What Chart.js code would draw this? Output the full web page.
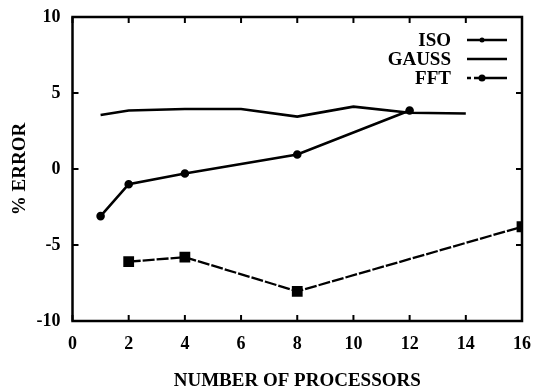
<!DOCTYPE html>
<html><head><meta charset="utf-8">
<script src="https://cdn.jsdelivr.net/npm/chart.js@4/dist/chart.umd.min.js"></script>
<style>html,body{margin:0;padding:0;background:#fff}#wrap{width:536px;height:389px;position:relative}</style>
</head><body><div id="wrap"><canvas id="c" width="536" height="389"></canvas></div>
<script>
const isoX = [1, 2, 4, 8, 12];
const isoY = [-3.1, -1.0, -0.3, 0.95, 3.85];
const gaussX = [1, 2, 4, 6, 8, 10, 12, 14];
const gaussY = [3.55, 3.85, 3.95, 3.95, 3.45, 4.1, 3.7, 3.65];
const fftX = [2, 4, 8, 16];
const fftY = [-6.1, -5.8, -8.05, -3.8];
const seriesNames = ['ISO', 'GAUSS', 'FFT'];
const xTicks = [0, 2, 4, 6, 8, 10, 12, 14, 16];
const yTicks = [-10, -5, 0, 5, 10];

const FONT = '"Liberation Serif", "DejaVu Serif", serif';
const pts = (xs, ys) => xs.map((x, i) => ({x, y: ys[i]}));

const frame = {
  id: 'frame',
  afterDraw(chart) {
    const {ctx, chartArea: a, scales: {x, y}} = chart;
    ctx.save();
    ctx.strokeStyle = '#000';
    ctx.lineWidth = 2.5;
    ctx.strokeRect(a.left, a.top, a.right - a.left, a.bottom - a.top);
    ctx.lineWidth = 2;
    const L = 6;
    xTicks.forEach(v => {
      const px = x.getPixelForValue(v);
      ctx.beginPath(); ctx.moveTo(px, a.bottom); ctx.lineTo(px, a.bottom - L); ctx.stroke();
      ctx.beginPath(); ctx.moveTo(px, a.top); ctx.lineTo(px, a.top + L); ctx.stroke();
    });
    yTicks.forEach(v => {
      const py = y.getPixelForValue(v);
      ctx.beginPath(); ctx.moveTo(a.left, py); ctx.lineTo(a.left + L, py); ctx.stroke();
      ctx.beginPath(); ctx.moveTo(a.right, py); ctx.lineTo(a.right - L, py); ctx.stroke();
    });
    // legend
    ctx.font = 'bold 19px ' + FONT;
    ctx.fillStyle = '#000';
    ctx.textAlign = 'right';
    ctx.textBaseline = 'middle';
    const ds = chart.data.datasets;
    seriesNames.forEach((name, i) => {
      const cy = 40 + i * 19;
      ctx.fillText(name, 451, cy + 1);
      ctx.lineWidth = 2.5;
      ctx.setLineDash(i === 2 ? [4, 3, 30, 0] : []);
      ctx.beginPath(); ctx.moveTo(467, cy); ctx.lineTo(507, cy); ctx.stroke();
      ctx.setLineDash([]);
      const d = ds[i];
      if (d.pointRadius > 0) {
        const r = i === 2 ? 3.5 : 2.5;
        ctx.beginPath();
        ctx.arc(482, cy, r, 0, Math.PI * 2);
        ctx.fill();
      }
    });
    ctx.restore();
  }
};

new Chart(document.getElementById('c'), {
  type: 'scatter',
  data: {
    datasets: [
      {label: seriesNames[0], data: pts(isoX, isoY), showLine: true, borderColor: '#000', backgroundColor: '#000',
       borderWidth: 2.6, pointRadius: 3, pointStyle: 'circle'},
      {label: seriesNames[1], data: pts(gaussX, gaussY), showLine: true, borderColor: '#000', backgroundColor: '#000',
       borderWidth: 2.6, pointRadius: 0},
      {label: seriesNames[2], data: pts(fftX, fftY), showLine: true, borderColor: '#000', backgroundColor: '#000',
       borderWidth: 2.3, borderDash: [12, 2], pointRadius: 6, pointStyle: 'rect'}
    ]
  },
  options: {
    responsive: false, animation: false,
    layout: {padding: {top: 17, right: 13, left: 0, bottom: 0}},
    plugins: {legend: {display: false}, tooltip: {enabled: false}},
    scales: {
      x: {type: 'linear', min: 0, max: 16,
        afterFit(s) { s.height = 68; },
        afterBuildTicks(s) { s.ticks = xTicks.map(v => ({value: v})); },
        grid: {display: false}, border: {display: false},
        ticks: {color: '#000', font: {family: FONT, size: 18, weight: 'bold'}, padding: 5},
        title: {display: true, text: 'NUMBER OF PROCESSORS', color: '#000',
          font: {family: FONT, size: 19, weight: 'bold', lineHeight: 0.85}, padding: {top: 0, bottom: 0}}},
      y: {type: 'linear', min: -10, max: 10,
        afterFit(s) { s.width = 72.5; },
        afterBuildTicks(s) { s.ticks = yTicks.map(v => ({value: v})); },
        grid: {display: false}, border: {display: false},
        ticks: {color: '#000', font: {family: FONT, size: 18, weight: 'bold'}, padding: 4},
        title: {display: true, text: '% ERROR', color: '#000',
          font: {family: FONT, size: 19, weight: 'bold'}, padding: {top: 9, bottom: 0}}}
    }
  },
  plugins: [frame]
});
</script>
</body></html>
